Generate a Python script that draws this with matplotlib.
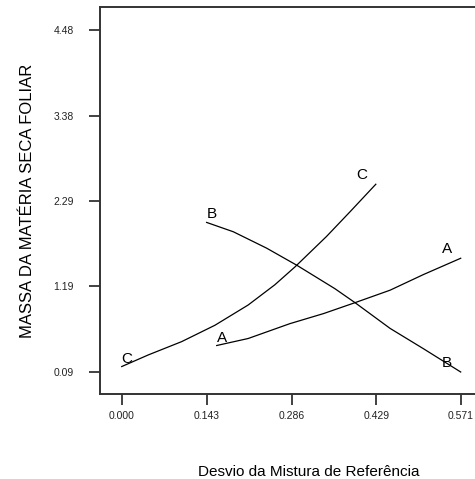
import matplotlib.pyplot as plt

plt.rcParams['font.family'] = ['Liberation Sans', 'DejaVu Sans']

# values
x_ticks = [0.000, 0.143, 0.286, 0.429, 0.571]
y_ticks = [0.09, 1.19, 2.29, 3.38, 4.48]

curve_a_x = [0.160, 0.213, 0.283, 0.340, 0.393, 0.452, 0.508, 0.571]
curve_a_y = [0.43, 0.52, 0.71, 0.84, 0.98, 1.14, 1.34, 1.55]

curve_b_x = [0.143, 0.188, 0.244, 0.295, 0.359, 0.393, 0.452, 0.508, 0.571]
curve_b_y = [2.01, 1.89, 1.68, 1.46, 1.16, 0.98, 0.65, 0.39, 0.09]

curve_c_x = [0.000, 0.045, 0.101, 0.157, 0.213, 0.258, 0.292, 0.345, 0.385, 0.428]
curve_c_y = [0.16, 0.31, 0.48, 0.69, 0.95, 1.21, 1.44, 1.83, 2.15, 2.50]

curves = {"A": (curve_a_x, curve_a_y), "B": (curve_b_x, curve_b_y), "C": (curve_c_x, curve_c_y)}

fig = plt.figure(figsize=(4.75, 4.79), dpi=100)
ax = fig.add_axes([0.2105, 0.1775, 0.88, 0.8079])

spine_color = "#333333"
for name, (xs, ys) in curves.items():
    ax.plot(xs, ys, color="black", lw=0.9)
    # label at the start and at the end of each curve
    ax.annotate(name, (xs[0], ys[0]), xytext=(5, 8), textcoords="offset pixels",
                ha="center", va="center", fontsize=11)
    ax.annotate(name, (xs[-1], ys[-1]), xytext=(-14, 9), textcoords="offset pixels",
                ha="center", va="center", fontsize=11)

ax.set_xlim(-0.0366, 0.6675)
ax.set_ylim(-0.192, 4.775)
ax.set_xticks(x_ticks)
ax.set_xticklabels([f"{v:.3f}" for v in x_ticks])
ax.set_yticks(y_ticks)
ax.set_yticklabels([f"{v:.2f}" for v in y_ticks])
ax.tick_params(labelsize=7.5, length=8, width=1.3, color=spine_color, labelcolor="#222222")
ax.tick_params(axis="y", pad=11)
ax.tick_params(axis="x", pad=4)

ax.spines["right"].set_visible(False)
for s in ["left", "top", "bottom"]:
    ax.spines[s].set_color(spine_color)
    ax.spines[s].set_linewidth(1.4)

ax.set_xlabel("Desvio da Mistura de Referência", fontsize=11, labelpad=32)
ax.set_ylabel("MASSA DA MATÉRIA SECA FOLIAR", fontsize=12, labelpad=13)

fig.savefig("out.png", dpi=100)
